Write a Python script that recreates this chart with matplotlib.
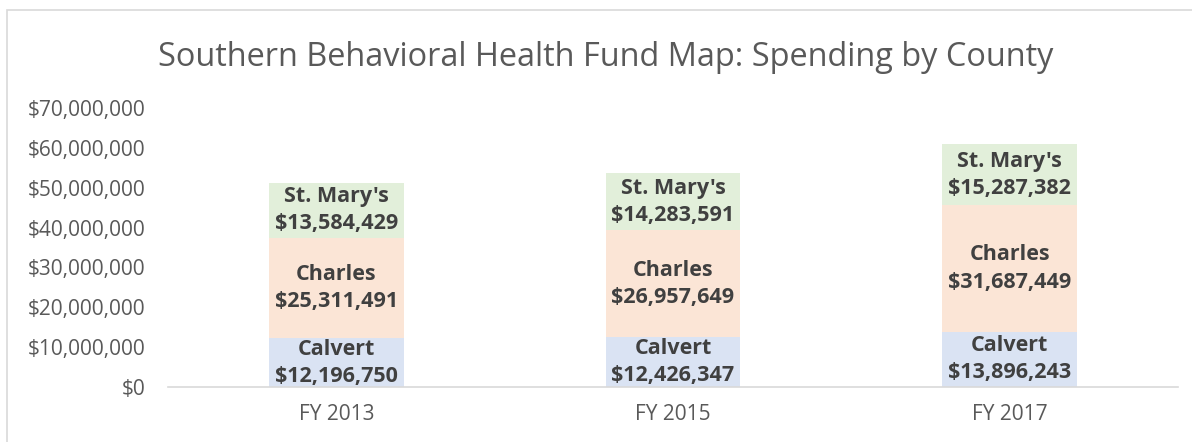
import numpy as np
import matplotlib.pyplot as plt
from matplotlib.patches import Rectangle
from matplotlib.ticker import FuncFormatter

# --- Data ---
years = ["FY 2013", "FY 2015", "FY 2017"]
counties = ["Calvert", "Charles", "St. Mary's"]
calvert = [12196750, 12426347, 13896243]
charles = [25311491, 26957649, 31687449]
st_marys = [13584429, 14283591, 15287382]
yticks = [0, 10e6, 20e6, 30e6, 40e6, 50e6, 60e6, 70e6]

colors = ["#DAE3F3", "#FBE5D6", "#E2EFDA"]
text_gray = "#595959"
label_gray = "#404040"

plt.rcParams["font.family"] = ["Open Sans", "DejaVu Sans"]

fig = plt.figure(figsize=(11.92, 4.42), dpi=100)
ax = fig.add_axes([168 / 1192, 55 / 442, 1010 / 1192, 279 / 442])

# chart border
fig.patches.append(Rectangle((7 / 1192, -0.1), 1.2, (432 / 442) + 0.1,
                             transform=fig.transFigure, fill=False,
                             edgecolor="#D9D9D9", lw=1.2))

x = np.arange(len(years))
bottom = np.zeros(len(years))
for name, vals, c in zip(counties, [calvert, charles, st_marys], colors):
    vals = np.array(vals, dtype=float)
    ax.bar(x, vals, 0.4, bottom=bottom, color=c, edgecolor="none")
    for xi, b, v in zip(x, bottom, vals):
        ax.text(xi, b + v / 2, f"{name}\n${v:,.0f}", ha="center", va="center",
                fontsize=15.5, fontweight="bold", color=label_gray,
                linespacing=1.38)
    bottom += vals

ax.set_xlim(-0.5, 2.5)
ax.set_ylim(0, 70e6)
ax.set_yticks(yticks)
ax.yaxis.set_major_formatter(FuncFormatter(lambda v, p: f"${v:,.0f}"))
ax.set_xticks(x)
ax.set_xticklabels(years)
ax.tick_params(axis="both", length=0, labelsize=15, colors=text_gray)
ax.tick_params(axis="y", pad=16)
ax.tick_params(axis="x", pad=12)
for s in ["top", "right", "left"]:
    ax.spines[s].set_visible(False)
ax.spines["bottom"].set_color("#D9D9D9")
ax.spines["bottom"].set_linewidth(1.2)

fig.text(606 / 1192, 384 / 442, "Southern Behavioral Health Fund Map: Spending by County",
         ha="center", va="center", fontsize=23.4, color=text_gray)

fig.savefig("out.png", dpi=100)
